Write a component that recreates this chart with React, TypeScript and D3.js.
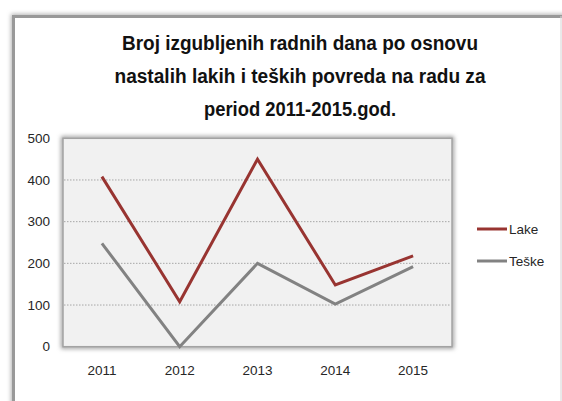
import React from 'react';
import * as d3 from 'd3';

const years = ['2011', '2012', '2013', '2014', '2015'];
const lake = [408, 108, 450, 148, 218];
const teske = [248, 0, 200, 102, 192];
const yTicks = [0, 100, 200, 300, 400, 500];
const titleLines = [
  'Broj izgubljenih radnih dana po osnovu',
  'nastalih lakih i teških povreda na radu za',
  'period 2011-2015.god.',
];
const seriesNames = ['Lake', 'Teške'];

const W = 562;
const H = 401;
const plot = { left: 63, right: 452, top: 138.3, bottom: 346.7 };
const font = "'Liberation Sans', Arial, sans-serif";

export default function App() {
  const x = d3.scalePoint<string>().domain(years).range([plot.left, plot.right]).padding(0.5);
  const y = d3.scaleLinear().domain([0, 500]).range([plot.bottom, plot.top]);
  const line = d3
    .line<number>()
    .x((_, i) => x(years[i]) as number)
    .y((d) => y(d));
  const series = [
    { name: seriesNames[0], values: lake, color: '#983431' },
    { name: seriesNames[1], values: teske, color: '#828282' },
  ];
  const titleWidths = [356, 371, 192];
  const titleBase = [50, 83, 116];

  return (
    <svg width={W} height={H} style={{ position: 'absolute', left: 0, top: 0 }} fontFamily={font}>
      <defs>
        <filter id="fshadow" x="-10%" y="-10%" width="120%" height="120%">
          <feGaussianBlur stdDeviation="2" />
        </filter>
        <filter id="pshadow" x="-5%" y="-5%" width="110%" height="110%">
          <feGaussianBlur stdDeviation="2.2" />
        </filter>
      </defs>
      <rect x={0} y={0} width={W} height={H} fill="#ffffff" />
      {/* outer frame */}
      <rect x={13.5} y={16.5} width={560} height={420} fill="none" stroke="#b0b0b0" strokeWidth={5} filter="url(#fshadow)" />
      <rect x={13.5} y={16.5} width={560} height={420} fill="#ffffff" stroke="#999999" strokeWidth={3} />
      <line x1={561} x2={561} y1={16} y2={H} stroke="#d4d4d4" strokeWidth={1} />
      {/* title */}
      {titleLines.map((t, i) => (
        <text
          key={i}
          x={300}
          y={titleBase[i]}
          textAnchor="middle"
          fontSize={20}
          fontWeight="bold"
          fill="#111"
          textLength={titleWidths[i]}
          lengthAdjust="spacingAndGlyphs"
        >
          {t}
        </text>
      ))}
      {/* plot area */}
      <rect
        x={plot.left}
        y={plot.top}
        width={plot.right - plot.left}
        height={plot.bottom - plot.top}
        fill="none"
        stroke="#9a9a9a"
        strokeWidth={4}
        filter="url(#pshadow)"
      />
      <rect
        x={plot.left}
        y={plot.top}
        width={plot.right - plot.left}
        height={plot.bottom - plot.top}
        fill="#f1f1f1"
        stroke="#a3a3a3"
        strokeWidth={1.5}
      />
      {yTicks
        .filter((t) => t > 0 && t < 500)
        .map((t) => (
          <line
            key={t}
            x1={plot.left + 1}
            x2={plot.right - 1}
            y1={y(t)}
            y2={y(t)}
            stroke="#a6a6a6"
            strokeWidth={1}
            strokeDasharray="1.5,1.5"
          />
        ))}
      {yTicks.map((t) => (
        <text key={t} x={50} y={y(t)} dy="0.35em" textAnchor="end" fontSize={13.5} fill="#262626">
          {t}
        </text>
      ))}
      {years.map((yr) => (
        <text key={yr} x={x(yr)} y={370} dy="0.35em" textAnchor="middle" fontSize={13.5} fill="#262626">
          {yr}
        </text>
      ))}
      {series.map((s) => (
        <path
          key={s.name}
          d={line(s.values) || ''}
          fill="none"
          stroke={s.color}
          strokeWidth={3}
          strokeLinejoin="miter"
        />
      ))}
      {/* legend */}
      {series.map((s, i) => {
        const ly = 229 + i * 32;
        return (
          <g key={s.name}>
            <line x1={477} x2={507} y1={ly} y2={ly} stroke={s.color} strokeWidth={3} />
            <text x={509} y={ly} dy="0.35em" fontSize={13.5} fill="#262626">
              {s.name}
            </text>
          </g>
        );
      })}
    </svg>
  );
}
